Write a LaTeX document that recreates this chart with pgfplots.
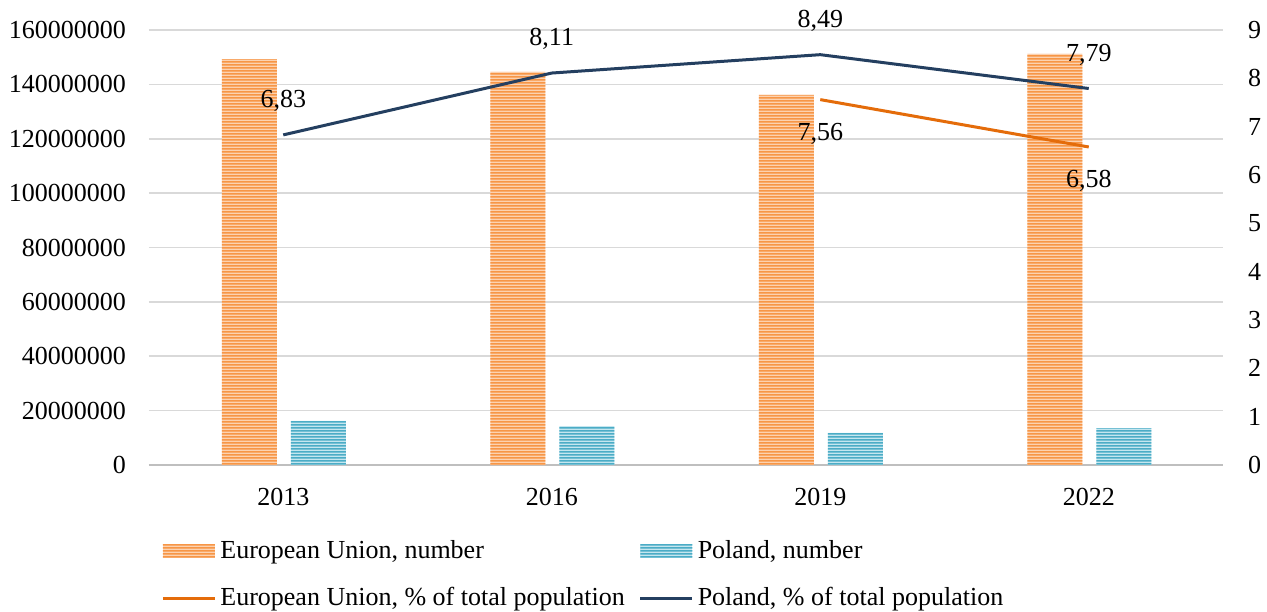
\documentclass[border=0pt]{standalone}
\usepackage{fontspec}
\setmainfont{Liberation Serif}
\usepackage{pgfplots}
\pgfplotsset{compat=1.18}
\usetikzlibrary{patterns,patterns.meta}
\definecolor{eulight}{HTML}{FCD2B0}
\definecolor{euorange}{HTML}{F79646}
\definecolor{pllight}{HTML}{C5E6EF}
\definecolor{plblue}{HTML}{4BACC6}
\definecolor{euline}{HTML}{E46C0A}
\definecolor{plline}{HTML}{243F60}
\definecolor{gridgray}{HTML}{D9D9D9}
\definecolor{axgray}{HTML}{BFBFBF}
\tikzdeclarepattern{
 name=hstripes,
 type=uncolored,
 bottom left={(0pt,0pt)},
 top right={(2pt,1.5pt)},
 tile size={(2pt,1.5pt)},
 code={\draw[line width=0.9pt] (-0.5pt,0.75pt) -- (2.5pt,0.75pt);}
}
\begin{document}
\fontsize{13pt}{15.6pt}\selectfont
\begin{tikzpicture}
\useasboundingbox (-74.5pt,-73pt) rectangle (559pt,232.5pt);
\begin{axis}[
  scale only axis, width=537pt, height=217.5pt,
  xmin=-0.5, xmax=3.5, ymin=0, ymax=160000000,
  xtick={0,1,2,3}, xticklabels={2013,2016,2019,2022},
  ytick={0,20000000,40000000,60000000,80000000,100000000,120000000,140000000,160000000},
  scaled y ticks=false,
  yticklabel style={/pgf/number format/fixed,/pgf/number format/1000 sep={}},
  /pgf/number format/assume math mode=true,
  major tick length=0pt,
  axis x line*=bottom, axis y line*=left,
  axis line style={draw=none},
  x axis line style={draw=axgray, line width=1.3pt},
  ymajorgrids, grid style={gridgray, line width=0.8pt},
  yticklabel style={xshift=-7pt},
  xticklabel style={yshift=-7pt},
  clip=false,
]
\addplot[ybar, bar width=27.5pt, bar shift=-17pt, fill=eulight, draw=none,
  postaction={pattern=hstripes, pattern color=euorange}]
  coordinates {(0,149300000) (1,144600000) (2,136100000) (3,151200000)};
\addplot[ybar, bar width=27.5pt, bar shift=17.5pt, fill=pllight, draw=none,
  postaction={pattern=hstripes, pattern color=plblue}]
  coordinates {(0,16200000) (1,14300000) (2,11800000) (3,13600000)};
\end{axis}
\begin{axis}[
  scale only axis, width=537pt, height=217.5pt,
  xmin=-0.5, xmax=3.5, ymin=0, ymax=9,
  ytick={0,1,2,3,4,5,6,7,8,9},
  /pgf/number format/assume math mode=true,
  axis x line=none, axis y line*=right,
  axis line style={draw=none},
  major tick length=0pt,
  yticklabel style={xshift=8pt},
  clip=false,
  legend columns=2,
  legend cell align=left,
  legend style={at={(3pt,-33.5pt)}, anchor=north west, draw=none, fill=none,
    row sep=8.5pt, /tikz/every even column/.append style={column sep=5pt}},
]
\addlegendimage{legend image code/.code={\path[fill=eulight, draw=none] (0pt,-3.5pt) rectangle (26pt,3.5pt); \path[pattern=hstripes, pattern color=euorange, draw=none] (0pt,-3.5pt) rectangle (26pt,3.5pt);}}
\addlegendentry{European Union, number}
\addlegendimage{legend image code/.code={\path[fill=pllight, draw=none] (0pt,-3.5pt) rectangle (26pt,3.5pt); \path[pattern=hstripes, pattern color=plblue, draw=none] (0pt,-3.5pt) rectangle (26pt,3.5pt);}}
\addlegendentry{Poland, number}
\addlegendimage{legend image code/.code={\draw[euline, line width=1.5pt] (0pt,0pt) -- (26pt,0pt);}}
\addlegendentry{European Union, \% of total population}
\addlegendimage{legend image code/.code={\draw[plline, line width=1.5pt] (0pt,0pt) -- (26pt,0pt);}}
\addlegendentry{Poland, \% of total population}
\addplot[forget plot, euline, line width=1.5pt, mark=none,
  point meta=explicit symbolic, nodes near coords,
  every node near coord/.append style={anchor=center, yshift=-17pt, text=black}]
  coordinates {(2,7.56) [7,56] (3,6.58) [6,58]};
\addplot[forget plot, plline, line width=1.5pt, mark=none,
  point meta=explicit symbolic, nodes near coords,
  every node near coord/.append style={anchor=center, yshift=17pt, text=black}]
  coordinates {(0,6.83) [6,83] (1,8.11) [8,11] (2,8.49) [8,49] (3,7.79) [7,79]};
\end{axis}
\end{tikzpicture}
\end{document}
